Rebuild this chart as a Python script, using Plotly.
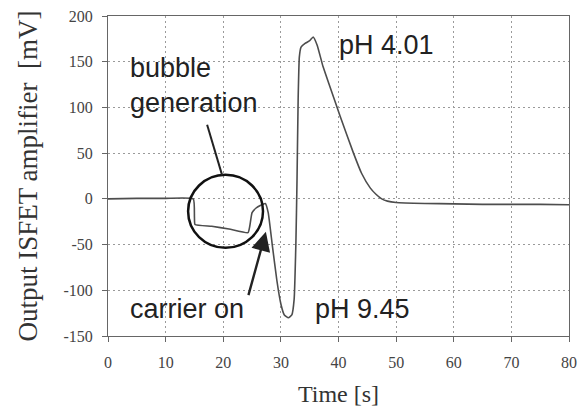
import plotly.graph_objects as go

time_s = [0, 5, 10, 14.8, 15.0, 15.1, 18, 21, 24.3, 24.6, 25.0, 25.7, 26.5, 27.3, 27.8, 28.5,
          29.3, 30.0, 30.6, 31.3, 31.9, 32.3, 32.6, 32.8, 33.0, 33.2, 33.5, 34.2, 35.0, 35.6,
          36.3, 37.3, 38.5, 40.3, 42.6, 44.0, 45.5, 46.5, 47.5, 48.5, 50.0, 55, 60, 65, 70, 75, 80]
output_mv = [0, 0.5, 0.5, 0, -20, -28, -30, -33, -37, -30, -15, -10, -7, -5, -15, -50,
             -89, -115, -127, -130, -127, -110, -50, 20, 110, 155, 166, 170, 173, 177,
             168, 145, 123, 90, 50, 28, 12, 5, 0, -2.5, -4, -5, -5.5, -6, -6, -6, -6.5]

x_ticks = [0, 10, 20, 30, 40, 50, 60, 70, 80]
y_ticks = [-150, -100, -50, 0, 50, 100, 150, 200]

labels = {
    "bubble": "bubble<br>generation",
    "acid": "pH 4.01",
    "carrier": "carrier on",
    "base": "pH 9.45",
}

serif = "Liberation Serif, Times New Roman, serif"
sans = "Liberation Sans, Arial, sans-serif"

fig = go.Figure()
fig.add_trace(go.Scatter(x=time_s, y=output_mv, mode="lines", line_shape="spline",
                         line=dict(color="#4d4d4d", width=1.6, smoothing=0.4), showlegend=False,
                         hoverinfo="skip"))

# magnifier circle around bubble generation
fig.add_shape(type="circle", xref="x", yref="y", x0=13.9, x1=26.9, y0=-53.6, y1=26.3,
              line=dict(color="#111", width=2.5))
# pointer line for bubble generation
fig.add_shape(type="line", xref="x", yref="y", x0=17.2, y0=81, x1=19.8, y1=26,
              line=dict(color="#222", width=2))

fig.add_annotation(x=27.4, y=-36, ax=24.3, ay=-107, xref="x", yref="y", axref="x", ayref="y",
                   text="", showarrow=True, arrowhead=2, arrowsize=1.6, arrowwidth=2.4,
                   arrowcolor="#222")

tfont = dict(family=sans, size=27, color="#222")
fig.add_annotation(x=3.5, y=124, xref="x", yref="y", text=labels["bubble"], showarrow=False,
                   xanchor="left", yanchor="middle", align="left", font=tfont)
fig.add_annotation(x=39.8, y=168, xref="x", yref="y", text=labels["acid"], showarrow=False,
                   xanchor="left", yanchor="middle", font=tfont)
fig.add_annotation(x=3.5, y=-120, xref="x", yref="y", text=labels["carrier"], showarrow=False,
                   xanchor="left", yanchor="middle", font=tfont)
fig.add_annotation(x=35.6, y=-121, xref="x", yref="y", text=labels["base"], showarrow=False,
                   xanchor="left", yanchor="middle", font=tfont)

axis_common = dict(showline=True, linecolor="#666", linewidth=1, mirror=True,
                   showgrid=True, gridcolor="#9a9a9a", gridwidth=1, griddash="2px,3px",
                   ticks="outside", ticklen=5, tickcolor="#666", zeroline=False,
                   ticklabeloverflow="allow", automargin=False,
                   tickfont=dict(family=serif, size=16, color="#444"))

fig.update_xaxes(range=[0, 80], tickvals=x_ticks, ticktext=[str(v) for v in x_ticks],
                 ticklabelstandoff=7,
                 title=dict(text="Time [s]", font=dict(family=serif, size=24, color="#333"),
                            standoff=14), **axis_common)
fig.update_yaxes(range=[-150, 200], tickvals=y_ticks, ticktext=[str(v) for v in y_ticks],
                 ticklabelstandoff=6,
                 title=dict(text="Output ISFET amplifier  [mV]",
                            font=dict(family=serif, size=27, color="#333"), standoff=18),
                 **axis_common)

fig.update_layout(width=581, height=407, margin=dict(l=108, r=12, t=16, b=71),
                  paper_bgcolor="white", plot_bgcolor="white")

# remove the browser's default 8px body margin so the figure fills the window exactly
fig.write_html("out.html", config={"displayModeBar": False},
               post_script="document.body.style.margin='0';")
